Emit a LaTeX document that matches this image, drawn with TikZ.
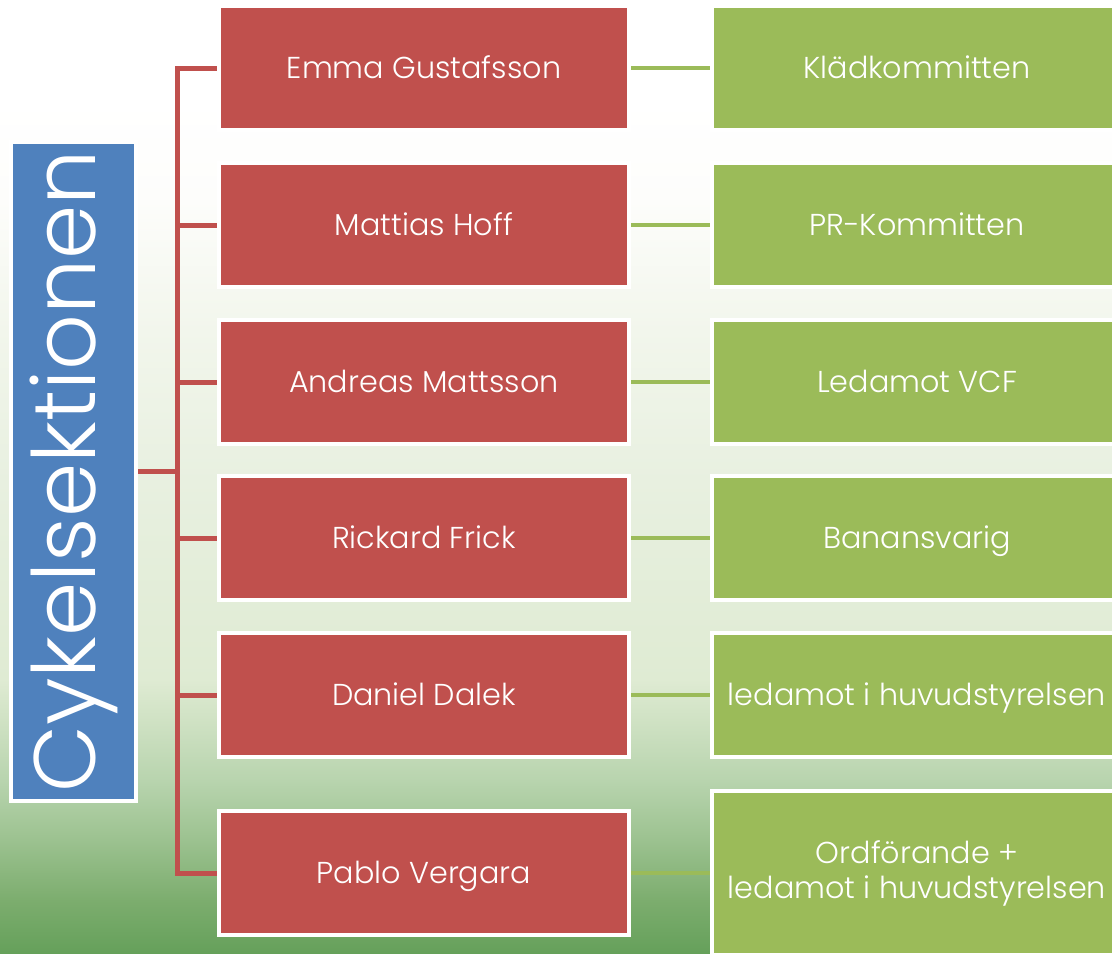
\documentclass[tikz,border=0pt]{standalone}
\usepackage{fontspec}
\IfFontExistsTF{Poppins Light}{\setmainfont{Poppins Light}}{\setmainfont{Poppins}}
\usepackage[svgnames]{xcolor}
\usetikzlibrary{positioning, backgrounds}
\definecolor{OrgBlue}{HTML}{4F81BD}
\definecolor{OrgRed}{HTML}{C0504D}
\definecolor{OrgGreen}{HTML}{9BBB59}
\definecolor{LawnA}{HTML}{65A05A}
\definecolor{LawnB}{HTML}{7CAD6E}
\definecolor{LawnC}{HTML}{9CC290}
\definecolor{LawnD}{HTML}{B8D4AE}
\definecolor{LawnE}{HTML}{D0E2C4}
\definecolor{LawnF}{HTML}{DFEBD3}
\definecolor{LawnG}{HTML}{E8F0E0}
\definecolor{LawnH}{HTML}{F2F6EC}
\definecolor{LawnI}{HTML}{FDFDFB}
% stops live between 25bp (bottom) and 75bp (top)
\pgfdeclareverticalshading{lawn}{100bp}{color(0bp)=(LawnA); color(25bp)=(LawnA); color(27.8bp)=(LawnB); color(31bp)=(LawnC); color(34.1bp)=(LawnD); color(37.3bp)=(LawnE); color(39.4bp)=(LawnF); color(49.8bp)=(LawnG); color(57.7bp)=(LawnH); color(64.5bp)=(LawnI); color(69.8bp)=(white); color(100bp)=(white)}

\begin{document}
\begin{tikzpicture}[x=0.025cm, y=-0.025cm,
  headbox/.style={fill=OrgBlue, draw=white, line width=0.1cm, inner sep=0pt,
    minimum width=3.125cm, minimum height=16.475cm, text=white},
  personbox/.style={fill=OrgRed, draw=white, line width=0.1cm, inner sep=0pt,
    minimum width=10.225cm, minimum height=3.075cm, text=white,
    text height=15pt, text depth=0pt, font=\fontsize{21.5}{25}\selectfont},
  rolebox/.style={personbox, fill=OrgGreen, align=center},
  redline/.style={draw=OrgRed, line width=0.125cm},
  greenline/.style={draw=OrgGreen, line width=0.1cm}]
\useasboundingbox (0,0) rectangle (1112,954);
\clip (0,0) rectangle (1112,954);

\node[headbox] (cyk) at (73.5,471.5) {\rotatebox{90}{\fontsize{62}{68}\selectfont Cykelsektionen}};

% persons
\node[personbox] (emma) at (424,68) {Emma Gustafsson};
\node[personbox] (mattias) at (424,225) {Mattias Hoff};
\node[personbox] (andreas) at (424,382) {Andreas Mattsson};
\node[personbox] (rickard) at (424,538) {Rickard Frick};
\node[personbox] (daniel) at (424,695) {Daniel Dalek};
\node[personbox] (pablo) at (424,873) {Pablo Vergara};

% roles
\node[rolebox] (klad) at (917,68) {Klädkommitten};
\node[rolebox] (pr) at (917,225) {PR-Kommitten};
\node[rolebox] (vcf) at (917,382) {Ledamot VCF};
\node[rolebox] (bana) at (917,538) {Banansvarig};
\node[rolebox] (hs) at (917,695) {ledamot i huvudstyrelsen};
\node[rolebox, minimum height=4.1cm, text height=36pt] (ordf) at (917,873) {Ordförande +\\ledamot i huvudstyrelsen};

\coordinate (trunk) at (177,471.5);

\begin{pgfonlayer}{background}
\shade[shading=lawn] (0,0) rectangle (1112,954);
\draw[redline] (cyk.east) -- (trunk);
\draw[redline] (trunk) |- (emma.west);
\draw[redline] (trunk) |- (mattias.west);
\draw[redline] (trunk) |- (andreas.west);
\draw[redline] (trunk) |- (rickard.west);
\draw[redline] (trunk) |- (daniel.west);
\draw[redline] (trunk) |- (pablo.west);
\draw[greenline] (emma.east) -- (klad.west);
\draw[greenline] (mattias.east) -- (pr.west);
\draw[greenline] (andreas.east) -- (vcf.west);
\draw[greenline] (rickard.east) -- (bana.west);
\draw[greenline] (daniel.east) -- (hs.west);
\draw[greenline] (pablo.east) -- (ordf.west);
\end{pgfonlayer}
\end{tikzpicture}
\end{document}
